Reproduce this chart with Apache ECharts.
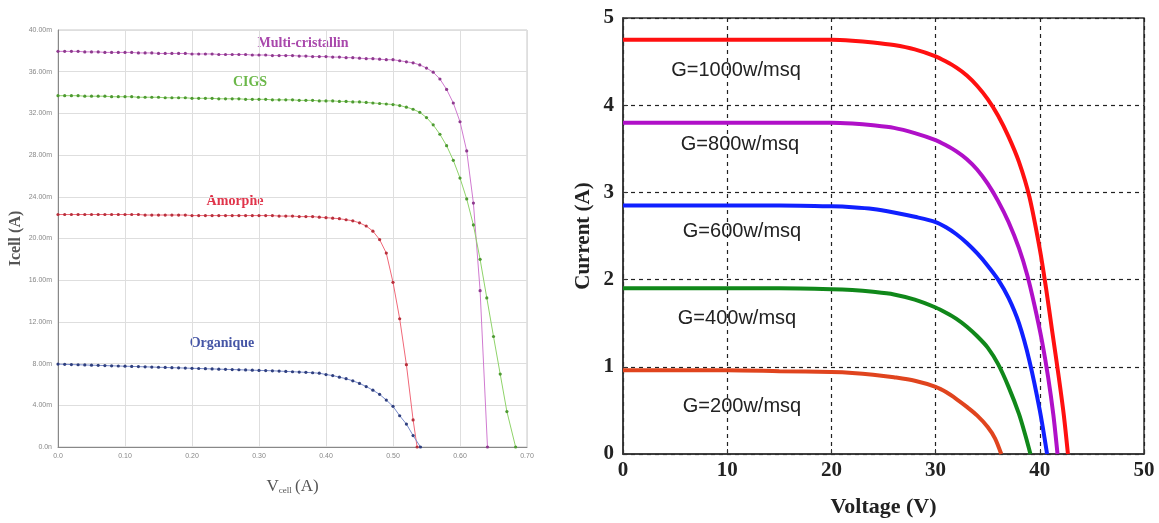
<!DOCTYPE html>
<html>
<head>
<meta charset="utf-8">
<script src="https://cdn.jsdelivr.net/npm/echarts@6/dist/echarts.min.js"></script>
<style>
  html, body { margin: 0; padding: 0; background: #fff; }
  #chart { width: 1159px; height: 523px; }
</style>
</head>
<body>
<div id="chart"></div>
<script>
// ---- Left panel: I-V curves of four cell technologies (current in mA) ----
const vCell = [0.00,0.01,0.02,0.03,0.04,0.05,0.06,0.07,0.08,0.09,
               0.10,0.11,0.12,0.13,0.14,0.15,0.16,0.17,0.18,0.19,
               0.20,0.21,0.22,0.23,0.24,0.25,0.26,0.27,0.28,0.29,
               0.30,0.31,0.32,0.33,0.34,0.35,0.36,0.37,0.38,0.39,
               0.40,0.41,0.42,0.43,0.44,0.45,0.46,0.47,0.48,0.49,
               0.50,0.51,0.52,0.53,0.54,0.55,0.56,0.57,0.58,0.59,
               0.60,0.61,0.62,0.63,0.64,0.65,0.66,0.67,0.68];

const iMulti = [37.95,37.95,37.95,37.95,37.9,37.9,37.9,37.85,37.85,37.85,
                37.85,37.85,37.8,37.8,37.8,37.75,37.75,37.75,37.75,37.75,
                37.7,37.7,37.7,37.7,37.65,37.65,37.65,37.65,37.65,37.6,
                37.6,37.6,37.55,37.55,37.55,37.55,37.5,37.5,37.45,37.45,
                37.45,37.4,37.4,37.35,37.35,37.3,37.25,37.25,37.2,37.15,
                37.15,37.05,36.95,36.85,36.65,36.35,35.95,35.3,34.3,33.0,
                31.2,28.4,23.4,15.0];
const iCigs = [33.7,33.7,33.7,33.7,33.65,33.65,33.65,33.65,33.6,33.6,
               33.6,33.6,33.55,33.55,33.55,33.55,33.5,33.5,33.5,33.5,
               33.45,33.45,33.45,33.45,33.4,33.4,33.4,33.4,33.35,33.35,
               33.35,33.35,33.3,33.3,33.3,33.3,33.25,33.25,33.25,33.2,
               33.2,33.2,33.15,33.15,33.1,33.1,33.05,33.0,32.95,32.9,
               32.85,32.75,32.6,32.4,32.1,31.6,30.9,30.0,28.9,27.5,
               25.8,23.8,21.3,18.0,14.3,10.6,7.0,3.4];
const iAmorphe = [22.3,22.3,22.3,22.3,22.3,22.3,22.3,22.3,22.3,22.3,
                  22.3,22.3,22.3,22.25,22.25,22.25,22.25,22.25,22.25,22.25,
                  22.2,22.2,22.2,22.2,22.2,22.2,22.2,22.2,22.2,22.2,
                  22.2,22.2,22.2,22.15,22.15,22.15,22.1,22.1,22.1,22.05,
                  22.0,21.95,21.9,21.8,21.7,21.5,21.2,20.7,19.9,18.6,
                  15.8,12.3,7.9,2.6];
const iOrganique = [7.95,7.93,7.91,7.89,7.87,7.85,7.83,7.81,7.79,7.77,
                    7.75,7.73,7.71,7.69,7.67,7.65,7.63,7.61,7.59,7.57,
                    7.55,7.53,7.51,7.49,7.47,7.45,7.43,7.41,7.39,7.37,
                    7.35,7.33,7.31,7.28,7.25,7.22,7.19,7.16,7.12,7.08,
                    6.95,6.85,6.7,6.55,6.35,6.1,5.8,5.45,5.05,4.5,
                    3.9,3.0,2.2,1.1];
// open-circuit voltages (I = 0) of each cell
const vocCell = { multi: 0.641, cigs: 0.683, amorphe: 0.536, organique: 0.541 };

const leftXTicks = ['0.0','0.10','0.20','0.30','0.40','0.50','0.60','0.70'];
const leftYTicks = ['0.0n','4.00m','8.00m','12.00m','16.00m','20.00m','24.00m','28.00m','32.00m','36.00m','40.00m'];

// ---- Right panel: module I-V curves for five irradiance levels ----
const v1000 = [0,5,10,15,20,22,24,26,28,30,31,32,33,34,35,36,37,38,39,40,40.6,41.2,41.8,42.3,42.7];
const i1000 = [4.75,4.75,4.75,4.75,4.75,4.74,4.72,4.69,4.64,4.56,4.5,4.43,4.34,4.22,4.07,3.88,3.64,3.35,2.95,2.35,1.9,1.4,0.9,0.45,0];
const v800 = [0,5,10,15,20,22,24,26,28,30,31,32,33,34,35,36,37,38,38.8,39.5,40.2,40.8,41.3,41.7];
const i800 = [3.8,3.8,3.8,3.8,3.8,3.79,3.77,3.74,3.68,3.6,3.54,3.47,3.38,3.26,3.1,2.9,2.66,2.36,2.05,1.7,1.3,0.88,0.45,0];
const v600 = [0,5,10,15,20,22,24,26,28,30,31,32,33,34,35,36,37,38,39,40,40.7];
const i600 = [2.85,2.85,2.85,2.85,2.84,2.83,2.81,2.77,2.72,2.66,2.6,2.52,2.42,2.3,2.16,2.0,1.79,1.5,1.07,0.5,0];
const v400 = [0,5,10,15,20,22,24,26,28,30,31,32,33,34,35,36,37,38,38.6,39.1];
const i400 = [1.9,1.9,1.9,1.9,1.89,1.88,1.86,1.83,1.77,1.68,1.62,1.55,1.46,1.35,1.22,1.03,0.77,0.46,0.22,0];
const v200 = [0,5,10,15,20,22,24,26,28,30,31,32,33,34,35,35.7,36.3];
const i200 = [0.96,0.96,0.96,0.95,0.94,0.93,0.91,0.88,0.84,0.77,0.71,0.63,0.54,0.44,0.31,0.18,0];

const rightXTicks = ['0','10','20','30','40','50'];
const rightYTicks = ['0','1','2','3','4','5'];
const irrLabels = ['G=1000w/msq','G=800w/msq','G=600w/msq','G=400w/msq','G=200w/msq'];

function cellPoints(cur, voc) {
  const pts = cur.map((c, k) => [vCell[k], c]);
  pts.push([voc, 0]);
  return pts;
}
function zipPoints(v, i) { return v.map((x, k) => [x, i[k]]); }

function cellSeries(name, cur, voc, lineColor, dotColor) {
  return {
    name, type: 'line', xAxisIndex: 0, yAxisIndex: 0,
    data: cellPoints(cur, voc),
    symbol: 'circle', symbolSize: 3.2, showSymbol: true,
    lineStyle: { width: 1, color: lineColor },
    itemStyle: { color: dotColor },
    z: 3
  };
}
function moduleSeries(name, v, i, color) {
  return {
    name, type: 'line', xAxisIndex: 1, yAxisIndex: 1,
    data: zipPoints(v, i), showSymbol: false, smooth: 0.3,
    lineStyle: { width: 4, color }, z: 3
  };
}

const serifBold = "'Liberation Serif', 'Times New Roman', serif";
const sans = "'Liberation Sans', Arial, sans-serif";
const cellFont = "bold 14px 'Liberation Serif', serif";
const gFont = "20px 'Liberation Sans', Arial, sans-serif";

const chart = echarts.init(document.getElementById('chart'), null, { renderer: 'canvas' });
chart.setOption({
  animation: false,
  backgroundColor: '#ffffff',
  grid: [
    { left: 58, top: 30, width: 469, height: 417, show: true, borderColor: '#c8c8c8', borderWidth: 1, backgroundColor: '#fff' },
    { left: 623, top: 18, width: 521, height: 437, show: true, borderColor: '#333', borderWidth: 1.5, backgroundColor: '#fff' }
  ],
  xAxis: [
    {
      gridIndex: 0, type: 'value', min: 0, max: 0.7, interval: 0.1,
      axisLine: { lineStyle: { color: '#888', width: 1 } },
      axisTick: { show: false },
      axisLabel: { fontSize: 7, color: '#888', margin: 6, fontFamily: sans,
        formatter: (v) => leftXTicks[Math.round(v / 0.1)] },
      splitLine: { show: true, lineStyle: { color: '#dedede', width: 1 } },
      name: '{v|V}{s|cell} {v|(A)}', nameLocation: 'middle', nameGap: 28,
      nameTextStyle: { rich: {
        v: { fontFamily: serifBold, fontSize: 17, color: '#555', lineHeight: 20, verticalAlign: 'bottom' },
        s: { fontFamily: serifBold, fontSize: 9, color: '#555', lineHeight: 20, verticalAlign: 'bottom', padding: [6, 0, 0, 0] }
      } }
    },
    {
      gridIndex: 1, type: 'value', min: 0, max: 50, interval: 10,
      axisLine: { lineStyle: { color: '#333', width: 1.5 } },
      axisTick: { inside: true, length: 5, lineStyle: { color: '#333' } },
      axisLabel: { fontSize: 21, fontWeight: 'bold', color: '#222', fontFamily: serifBold, margin: 6,
        formatter: (v) => rightXTicks[Math.round(v / 10)] },
      splitLine: { show: true, lineStyle: { color: '#222', width: 1.2, type: [4, 4] } },
      name: 'Voltage (V)', nameLocation: 'middle', nameGap: 42,
      nameTextStyle: { fontSize: 22, fontWeight: 'bold', color: '#222', fontFamily: serifBold }
    }
  ],
  yAxis: [
    {
      gridIndex: 0, type: 'value', min: 0, max: 40, interval: 4,
      axisLine: { show: true, lineStyle: { color: '#888', width: 1 } },
      axisTick: { show: false },
      axisLabel: { fontSize: 7, color: '#888', margin: 6, fontFamily: sans,
        formatter: (v) => leftYTicks[Math.round(v / 4)] },
      splitLine: { show: true, lineStyle: { color: '#dedede', width: 1 } },
      name: 'Icell (A)', nameLocation: 'middle', nameGap: 34,
      nameTextStyle: { fontSize: 16, fontWeight: 'bold', color: '#555', fontFamily: serifBold }
    },
    {
      gridIndex: 1, type: 'value', min: 0, max: 5, interval: 1,
      axisLine: { show: true, lineStyle: { color: '#333', width: 1.5 } },
      axisTick: { inside: true, length: 5, lineStyle: { color: '#333' } },
      axisLabel: { fontSize: 21, fontWeight: 'bold', color: '#222', fontFamily: serifBold, margin: 9,
        formatter: (v) => rightYTicks[Math.round(v)] },
      splitLine: { show: true, lineStyle: { color: '#222', width: 1.2, type: [4, 4] } },
      name: 'Current (A)', nameLocation: 'middle', nameGap: 29,
      nameTextStyle: { fontSize: 21, fontWeight: 'bold', color: '#222', fontFamily: serifBold }
    }
  ],
  series: [
    cellSeries('Multi-cristallin', iMulti, vocCell.multi, '#d07ad0', '#8e3a8e'),
    cellSeries('CIGS', iCigs, vocCell.cigs, '#8fd36a', '#4e9a32'),
    cellSeries('Amorphe', iAmorphe, vocCell.amorphe, '#f06878', '#b8303c'),
    cellSeries('Organique', iOrganique, vocCell.organique, '#7a8ccc', '#2f3f7e'),
    moduleSeries(irrLabels[0], v1000, i1000, '#ff1010'),
    moduleSeries(irrLabels[1], v800, i800, '#b010c8'),
    moduleSeries(irrLabels[2], v600, i600, '#1020ff'),
    moduleSeries(irrLabels[3], v400, i400, '#10881a'),
    moduleSeries(irrLabels[4], v200, i200, '#e0441e')
  ],
  graphic: [
    { type: 'text', x: 303, y: 43, style: { text: 'Multi-cristallin', font: cellFont, fill: '#a948ac', align: 'center', verticalAlign: 'middle' } },
    { type: 'text', x: 250, y: 82, style: { text: 'CIGS', font: cellFont, fill: '#6cb84a', align: 'center', verticalAlign: 'middle' } },
    { type: 'text', x: 235, y: 201, style: { text: 'Amorphe', font: cellFont, fill: '#e0344a', align: 'center', verticalAlign: 'middle' } },
    { type: 'text', x: 222, y: 343, style: { text: 'Organique', font: cellFont, fill: '#4656a6', align: 'center', verticalAlign: 'middle' } },
    { type: 'text', x: 736, y: 70, style: { text: irrLabels[0], font: gFont, fill: '#222', align: 'center', verticalAlign: 'middle' } },
    { type: 'text', x: 740, y: 144, style: { text: irrLabels[1], font: gFont, fill: '#222', align: 'center', verticalAlign: 'middle' } },
    { type: 'text', x: 742, y: 231, style: { text: irrLabels[2], font: gFont, fill: '#222', align: 'center', verticalAlign: 'middle' } },
    { type: 'text', x: 737, y: 318, style: { text: irrLabels[3], font: gFont, fill: '#222', align: 'center', verticalAlign: 'middle' } },
    { type: 'text', x: 742, y: 406, style: { text: irrLabels[4], font: gFont, fill: '#222', align: 'center', verticalAlign: 'middle' } }
  ]
});
</script>
</body>
</html>
